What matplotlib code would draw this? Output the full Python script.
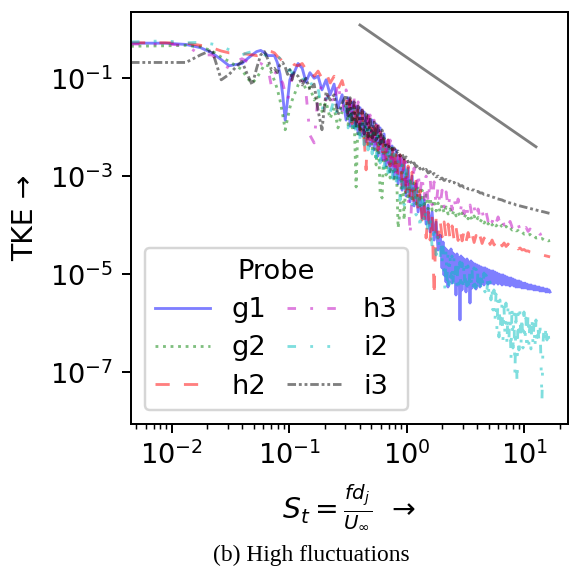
import matplotlib
matplotlib.use("Agg")
import matplotlib.pyplot as plt
from matplotlib.ticker import LogLocator, NullLocator

# Strouhal number grid (shared by all probes)
st = [0.0045, 0.0088, 0.0132, 0.0176, 0.0220, 0.0264, 0.0308, 0.0352, 0.0396, 0.0440,
      0.0484, 0.0528, 0.0572, 0.0616, 0.0660, 0.0704, 0.0748, 0.0792, 0.0836, 0.0880,
      0.0924, 0.0968, 0.1012, 0.1056, 0.1100, 0.119, 0.129, 0.139, 0.150, 0.163,
      0.176, 0.190, 0.206, 0.223, 0.241, 0.260, 0.282,
      0.305, 0.317, 0.330, 0.343, 0.356, 0.371, 0.386, 0.401, 0.417, 0.434,
      0.451, 0.469, 0.488, 0.508, 0.528, 0.549, 0.571, 0.594, 0.617, 0.642,
      0.668, 0.695, 0.722, 0.751, 0.781, 0.812, 0.845, 0.879, 0.914, 0.950,
      0.988, 1.028, 1.069, 1.112, 1.156, 1.202, 1.250, 1.300, 1.352, 1.406,
      1.463, 1.521, 1.582, 1.645, 1.711, 1.780, 1.850, 1.924, 2.001, 2.081,
      2.165, 2.251, 2.341, 2.435, 2.532, 2.633, 2.738, 2.848, 2.962, 3.080,
      3.203, 3.332, 3.465, 3.603, 3.747, 3.897, 4.053, 4.215, 4.383, 4.558,
      4.740, 4.930, 5.127, 5.332, 5.545, 5.767, 5.997, 6.237, 6.486, 6.745,
      7.015, 7.295, 7.586, 7.889, 8.204, 8.532, 8.873, 9.228, 9.597, 9.98,
      10.38, 10.79, 11.22, 11.67, 12.14, 12.62, 13.13, 13.65, 14.20, 14.77,
      15.36, 15.97, 16.61]

# finer high-frequency part of the grid (g1 and i2 keep the full FFT resolution there)
st_hi = [1.959, 1.998, 2.037, 2.077, 2.118, 2.160, 2.203, 2.246, 2.291, 2.336,
         2.382, 2.429, 2.477, 2.526, 2.576, 2.627, 2.679, 2.732, 2.786, 2.841,
         2.897, 2.955, 3.013, 3.073, 3.134, 3.196, 3.259, 3.323, 3.389, 3.456,
         3.524, 3.594, 3.665, 3.738, 3.812, 3.887, 3.964, 4.042, 4.122, 4.204,
         4.287, 4.372, 4.458, 4.547, 4.637, 4.728, 4.822, 4.917, 5.015, 5.114,
         5.215, 5.318, 5.423, 5.531, 5.640, 5.752, 5.866, 5.982, 6.100, 6.221,
         6.344, 6.469, 6.597, 6.728, 6.861, 6.997, 7.135, 7.276, 7.420, 7.567,
         7.717, 7.870, 8.025, 8.184, 8.346, 8.511, 8.680, 8.851, 9.027, 9.205,
         9.387, 9.573, 9.763, 9.956, 10.15, 10.35, 10.56, 10.77, 10.98, 11.20,
         11.42, 11.65, 11.88, 12.11, 12.35, 12.60, 12.85, 13.10, 13.36, 13.62,
         13.89, 14.17, 14.45, 14.73, 15.03, 15.32, 15.63, 15.94, 16.25, 16.58]

tke_g1 = [0.52, 0.52, 0.49, 0.42, 0.33, 0.24, 0.18, 0.19, 0.20, 0.25,
          0.30, 0.35, 0.37, 0.33, 0.29, 0.29, 0.29, 0.21, 0.12, 0.046,
          0.014, 0.036, 0.093, 0.12, 0.13, 0.20, 0.16, 0.083, 0.13, 0.10,
          0.11, 0.058, 0.093, 0.046, 0.076, 0.025, 0.046,
          0.014, 0.040, 0.0106, 0.033, 0.0097, 0.027, 0.0073, 0.025, 0.0066, 0.0205,
          0.0050, 0.0178, 0.00415, 0.014, 0.00344, 0.0117, 0.00259, 0.0097, 0.00215, 0.0073,
          0.00162, 0.0055, 0.00122, 0.00415, 9.2e-4, 0.00344, 7.0e-4, 0.00259, 5.2e-4, 0.00215,
          3.96e-4, 0.00148, 3.0e-4, 0.00101, 2.48e-4, 7.0e-4, 1.87e-4, 4.15e-4, 1.41e-4, 3.28e-4,
          1.06e-4, 2.59e-4, 7.3e-5, 1.87e-4, 5.0e-5, 1.17e-4, 3.13e-5, 6.3e-5,
          # fine part
          3.96e-5, 1.35e-5, 4.56e-5, 9.7e-6, 3.44e-5, 7.0e-6, 3.13e-5, 5.5e-6, 2.85e-5, 9.2e-6,
          3.28e-5, 6.6e-6, 2.72e-5, 7.65e-6, 2.48e-5, 3.78e-6, 2.60e-5, 6.05e-6, 2.15e-5, 1.17e-6,
          2.36e-5, 4.79e-6, 2.15e-5, 6.6e-6, 1.96e-5, 4.36e-6, 2.05e-5, 5.77e-6, 1.78e-5, 2.59e-6,
          1.87e-5, 5.25e-6, 1.70e-5, 6.05e-6, 1.62e-5, 5.0e-6, 1.55e-5, 6.3e-6, 1.48e-5, 5.5e-6,
          1.41e-5, 6.6e-6, 1.35e-5, 6.05e-6, 1.35e-5, 7.0e-6, 1.28e-5, 6.3e-6, 1.22e-5, 6.6e-6,
          1.17e-5, 6.6e-6, 1.17e-5, 6.3e-6, 1.11e-5, 7.0e-6, 1.06e-5, 6.3e-6, 1.01e-5, 6.6e-6,
          9.7e-6, 6.05e-6, 9.7e-6, 6.3e-6, 9.2e-6, 6.05e-6, 8.8e-6, 6.05e-6, 8.4e-6, 5.77e-6,
          8.4e-6, 6.05e-6, 8.0e-6, 5.77e-6, 7.65e-6, 5.5e-6, 7.3e-6, 5.5e-6, 7.3e-6, 5.5e-6,
          7.0e-6, 5.25e-6, 6.6e-6, 5.25e-6, 6.6e-6, 5.25e-6, 6.3e-6, 5.0e-6, 6.05e-6, 5.0e-6,
          6.05e-6, 5.0e-6, 5.77e-6, 4.79e-6, 5.77e-6, 4.79e-6, 5.5e-6, 4.79e-6, 5.5e-6, 4.56e-6,
          5.25e-6, 4.56e-6, 5.25e-6, 4.56e-6, 5.0e-6, 4.36e-6, 5.0e-6, 4.36e-6, 4.79e-6, 4.36e-6]

tke_g2 = [0.45, 0.46, 0.47, 0.44, 0.36, 0.27, 0.22, 0.18, 0.15, 0.10,
          0.08, 0.10, 0.14, 0.19, 0.18, 0.13, 0.09, 0.06, 0.035, 0.018,
          0.0089, 0.015, 0.025, 0.035, 0.045, 0.073, 0.093, 0.058, 0.066, 0.036,
          0.046, 0.021, 0.033, 0.015, 0.025, 0.0097, 0.021,
          0.0285, 0.0111, 0.025, 0.0097, 0.0205, 6.05e-4, 0.0178, 0.00697, 0.0155, 0.0055,
          0.0128, 0.00435, 0.0111, 0.00344, 0.0088, 0.0017, 0.00765, 4.8e-4, 3.6e-4, 0.00605,
          0.00106, 0.00479, 9.2e-4, 0.00378, 7.7e-4, 0.00272, 8.8e-5, 2.05e-4, 0.0017, 1.28e-4,
          0.00122, 3.28e-4, 9.2e-4, 3.0e-4, 7.3e-4, 2.72e-4, 6.3e-4, 2.48e-4, 5.2e-4, 2.25e-4,
          4.15e-4, 2.15e-4, 3.6e-4, 2.05e-4, 3.28e-4, 1.96e-4, 2.85e-4, 1.87e-4, 2.59e-4, 1.78e-4,
          2.36e-4, 1.70e-4, 2.15e-4, 1.62e-4, 2.0e-4, 1.55e-4, 1.87e-4, 1.48e-4, 1.78e-4, 1.41e-4,
          1.70e-4, 1.35e-4, 1.62e-4, 1.28e-4, 1.55e-4, 1.22e-4, 1.44e-4, 1.17e-4, 1.35e-4, 1.11e-4,
          1.28e-4, 1.06e-4, 1.20e-4, 1.01e-4, 1.14e-4, 9.7e-5, 1.06e-4, 9.2e-5, 1.01e-4, 8.8e-5,
          9.5e-5, 8.4e-5, 9.0e-5, 8.0e-5, 8.4e-5, 7.7e-5, 7.8e-5, 7.1e-5, 7.3e-5, 6.6e-5,
          6.8e-5, 6.3e-5, 6.5e-5, 5.9e-5, 6.05e-5, 5.5e-5, 5.6e-5, 5.25e-5, 5.35e-5, 5.0e-5,
          5.1e-5, 4.8e-5, 4.9e-5]

tke_h2 = [0.53, 0.53, 0.52, 0.47, 0.42, 0.36, 0.33, 0.33, 0.32, 0.31,
          0.30, 0.29, 0.31, 0.34, 0.36, 0.35, 0.33, 0.28, 0.25, 0.22,
          0.20, 0.19, 0.20, 0.21, 0.19, 0.18, 0.20, 0.15, 0.16, 0.11,
          0.14, 0.10, 0.13, 0.08, 0.11, 0.06, 0.09,
          0.0436, 0.014, 0.036, 0.0117, 0.030, 0.0097, 0.025, 0.0080, 0.0205, 0.00605,
          0.00135, 0.017, 0.0050, 0.014, 0.00415, 0.0111, 0.00344, 0.0088, 0.00259, 0.00697,
          0.00215, 0.0055, 0.00162, 0.00435, 0.00122, 0.00344, 9.2e-4, 0.00272, 6.6e-4, 0.00215,
          4.8e-4, 0.00162, 3.6e-4, 0.00122, 2.59e-4, 8.4e-4, 1.87e-4, 5.2e-4, 1.28e-4, 2.59e-4,
          5.5e-5, 1.87e-4, 5.0e-5, 1.62e-4, 3.6e-6, 1.41e-4, 5.5e-5, 1.28e-4, 5.8e-5, 1.17e-4,
          5.5e-5, 1.06e-4, 5.25e-5, 9.7e-5, 5.0e-5, 8.8e-5, 4.9e-5, 8.2e-5, 4.8e-5, 7.7e-5,
          4.67e-5, 7.1e-5, 4.56e-5, 6.6e-5, 4.45e-5, 6.2e-5, 4.35e-5, 5.9e-5, 4.25e-5, 5.5e-5,
          4.15e-5, 5.25e-5, 4.05e-5, 5.0e-5, 3.96e-5, 4.8e-5, 3.87e-5, 4.56e-5, 3.78e-5, 4.35e-5,
          3.69e-5, 4.15e-5, 3.6e-5, 3.96e-5, 3.44e-5, 3.69e-5, 3.28e-5, 3.44e-5, 3.13e-5, 3.2e-5,
          2.99e-5, 2.99e-5, 2.85e-5, 2.79e-5, 2.72e-5, 2.66e-5, 2.6e-5, 2.54e-5, 2.48e-5, 2.42e-5,
          2.37e-5, 2.31e-5, 2.26e-5]

tke_h3 = [0.50, 0.50, 0.47, 0.30, 0.30, 0.20, 0.16, 0.22, 0.25, 0.22,
          0.20, 0.18, 0.20, 0.18, 0.16, 0.07, 0.12, 0.15, 0.10, 0.08,
          0.05, 0.035, 0.06, 0.10, 0.14, 0.12, 0.09, 0.05, 0.0069, 0.0048,
          0.046, 0.073, 0.036, 0.058, 0.028, 0.083, 0.022,
          0.058, 0.0178, 0.048, 0.014, 0.040, 0.0117, 0.033, 0.0088, 0.027, 0.0073,
          0.0225, 0.0055, 0.0178, 0.00435, 0.014, 0.00344, 0.0117, 0.00272, 0.0088, 0.00215,
          0.00697, 0.0017, 0.0055, 0.00135, 0.00415, 0.00106, 0.00344, 8.4e-4, 0.00259, 6.3e-4,
          0.00196, 4.8e-4, 6.3e-5, 5.2e-4, 0.00148, 4.15e-4, 0.00122, 4.56e-4, 0.00106, 3.28e-4,
          1.01e-3, 2.85e-4, 9.2e-4, 2.59e-4, 7.7e-4, 2.48e-4, 6.3e-4, 2.48e-4, 5.2e-4, 2.36e-4,
          4.8e-4, 2.25e-4, 4.15e-4, 2.05e-4, 3.78e-4, 1.96e-4, 3.44e-4, 1.78e-4, 3.13e-4, 1.70e-4,
          2.85e-4, 1.55e-4, 2.59e-4, 1.48e-4, 2.36e-4, 1.41e-4, 2.15e-4, 1.35e-4, 1.96e-4, 1.28e-4,
          1.87e-4, 1.22e-4, 1.70e-4, 1.17e-4, 1.58e-4, 1.11e-4, 1.48e-4, 1.06e-4, 1.38e-4, 1.01e-4,
          1.28e-4, 9.7e-5, 1.20e-4, 9.2e-5, 1.11e-4, 8.8e-5, 1.04e-4, 8.2e-5, 9.7e-5, 7.8e-5,
          9.0e-5, 7.5e-5, 8.4e-5, 7.1e-5, 7.8e-5, 6.8e-5, 7.3e-5, 6.5e-5, 6.8e-5, 6.2e-5,
          6.3e-5, 5.9e-5, 6.05e-5]

tke_i2 = [0.55, 0.58, 0.53, 0.54, 0.50, 0.45, 0.38, 0.33, 0.30, 0.33,
          0.35, 0.36, 0.33, 0.30, 0.28, 0.25, 0.27, 0.29, 0.25, 0.20,
          0.16, 0.14, 0.15, 0.13, 0.12, 0.12, 0.13, 0.073, 0.093, 0.052,
          0.063, 0.022, 0.046, 0.020, 0.036, 0.015, 0.028,
          0.036, 0.0097, 0.030, 0.0080, 0.025, 0.0066, 0.0205, 0.0055, 0.017, 0.00435,
          0.014, 0.00344, 0.0117, 0.00285, 0.0097, 0.00237, 0.0080, 0.00187, 0.0063, 0.00148,
          0.0050, 0.00117, 0.00378, 9.2e-4, 0.00285, 7.0e-4, 0.00215, 3.28e-4, 0.0017, 2.59e-4,
          0.00135, 3.6e-4, 0.00101, 2.59e-4, 7.7e-4, 1.62e-4, 5.2e-4, 8.0e-5, 3.28e-4, 1.01e-4,
          2.05e-4, 6.3e-5, 1.62e-4, 3.44e-5, 1.01e-4, 2.48e-5, 7.3e-5, 2.15e-5,
          # fine part
          5.01e-5, 1.78e-5, 3.96e-5, 9.7e-6, 4.79e-6, 3.13e-5, 7.65e-6, 2.85e-5, 6.05e-6, 2.60e-5,
          8.4e-6, 2.36e-5, 5.77e-6, 2.15e-5, 7.0e-6, 2.05e-5, 5.25e-6, 1.96e-5, 6.3e-6, 1.78e-5,
          4.79e-6, 1.70e-5, 6.05e-6, 1.62e-5, 5.0e-6, 1.55e-5, 5.77e-6, 1.48e-5, 4.56e-6, 1.41e-5,
          5.5e-6, 1.35e-5, 4.79e-6, 1.35e-5, 5.25e-6, 1.28e-5, 4.36e-6, 1.22e-5, 5.0e-6, 1.17e-5,
          4.56e-6, 1.11e-5, 5.25e-6, 1.06e-5, 4.36e-6, 9.7e-6, 4.79e-6, 8.4e-6, 3.78e-6, 7.0e-6,
          2.99e-6, 5.77e-6, 1.87e-6, 4.79e-6, 1.06e-6, 3.96e-6, 7.3e-7, 3.44e-6, 5.25e-7, 2.99e-6,
          6.6e-7, 2.48e-6, 4.56e-7, 2.26e-6, 5.8e-7, 2.59e-6, 3.6e-7, 2.05e-6, 5.0e-7, 1.87e-6,
          1.78e-7, 2.26e-6, 3.13e-7, 1.70e-6, 8.8e-8, 1.87e-6, 6.05e-8, 1.55e-6, 2.85e-7, 1.78e-6,
          3.6e-7, 1.41e-6, 3.13e-7, 1.70e-6, 4.15e-7, 1.28e-6, 2.85e-7, 1.55e-6, 3.44e-7, 1.17e-6,
          2.99e-7, 1.35e-6, 3.78e-7, 1.06e-6, 3.13e-7, 1.17e-6, 3.6e-7, 9.2e-7, 3.96e-7, 1.06e-6,
          1.78e-7, 2.72e-8, 3.6e-7, 8.4e-7, 3.96e-7, 9.2e-7, 4.56e-7, 7.3e-7, 4.15e-7, 6.3e-7]

tke_i3 = [0.21, 0.21, 0.21, 0.30, 0.38, 0.093, 0.12, 0.17, 0.22, 0.12,
          0.073, 0.16, 0.30, 0.35, 0.24, 0.15, 0.16, 0.13, 0.19, 0.21,
          0.17, 0.12, 0.15, 0.093, 0.13, 0.11, 0.073, 0.10, 0.058, 0.076,
          0.022, 0.0089, 0.053, 0.036, 0.046, 0.018, 0.031,
          0.0456, 0.0155, 0.040, 0.0128, 0.033, 0.0106, 0.027, 0.0088, 0.0225, 0.0073,
          0.0187, 0.0063, 0.0155, 0.0055, 0.0128, 0.0050, 0.0106, 0.00456, 0.0088, 0.00415,
          0.00435, 0.00378, 0.00435, 0.00344, 0.00378, 0.00299, 0.00328, 0.00259, 0.00285, 0.00225,
          0.00248, 0.00196, 0.00215, 0.00170, 0.00187, 0.00155, 0.00170, 0.00141, 0.00155, 0.00128,
          0.00138, 0.00117, 0.00125, 0.00106, 0.00114, 9.7e-4, 1.01e-3, 8.8e-4, 9.2e-4, 8.2e-4,
          8.6e-4, 7.7e-4, 8.0e-4, 7.3e-4, 7.5e-4, 6.8e-4, 7.0e-4, 6.3e-4, 6.45e-4, 5.9e-4,
          6.05e-4, 5.5e-4, 5.6e-4, 5.25e-4, 5.25e-4, 4.9e-4, 4.9e-4, 4.56e-4, 4.56e-4, 4.25e-4,
          4.25e-4, 4.06e-4, 3.96e-4, 3.78e-4, 3.69e-4, 3.52e-4, 3.44e-4, 3.36e-4, 3.28e-4, 3.13e-4,
          3.06e-4, 2.92e-4, 2.85e-4, 2.79e-4, 2.72e-4, 2.59e-4, 2.54e-4, 2.48e-4, 2.42e-4, 2.36e-4,
          2.31e-4, 2.25e-4, 2.20e-4, 2.15e-4, 2.10e-4, 2.05e-4, 2.0e-4, 1.96e-4, 1.91e-4, 1.87e-4,
          1.82e-4, 1.78e-4, 1.74e-4]

# -5/3 reference slope line
ref_st = [0.40, 12.6]
ref_tke = [1.22, 0.0040]

N_COARSE = 85  # grid points of st used before st_hi takes over for g1 and i2
st_fine = st[:N_COARSE] + st_hi

probes = ["g1", "g2", "h2", "h3", "i2", "i3"]
grids = [st_fine, st, st, st, st_fine, st]
series = [tke_g1, tke_g2, tke_h2, tke_h3, tke_i2, tke_i3]
colors = ["b", "g", "r", "m", "c", "k"]
styles = ["-", ":", (0, (5, 5)), (0, (3, 5, 1, 5)), (0, (3, 5, 1, 5, 1, 5)),
          (0, (3, 1, 1, 1, 1, 1))]

DPI = 178
fig = plt.figure(figsize=(571 / DPI, 570 / DPI), dpi=DPI)
ax = fig.add_axes([131 / 571, 1 - 424 / 570, 437 / 571, 412 / 570])

for name, xs, vals, c, ls in zip(probes, grids, series, colors, styles):
    ax.plot(xs, vals, color=c, alpha=0.5, linestyle=ls, linewidth=1.15, label=name)

ax.plot(ref_st, ref_tke, color="k", alpha=0.5, linewidth=1.15)

ax.set_xscale("log")
ax.set_yscale("log")
ax.set_xlim(0.0045, 23.6)
ax.set_ylim(8.8e-9, 2.25)
ax.set_yticks([1e-1, 1e-3, 1e-5, 1e-7])
ax.yaxis.set_minor_locator(NullLocator())
ax.xaxis.set_major_locator(LogLocator(base=10, numticks=10))
ax.xaxis.set_minor_locator(LogLocator(base=10, subs=range(2, 10), numticks=20))
ax.tick_params(axis="both", which="major", labelsize=11)

ax.set_ylabel("TKE →", fontsize=11.5, labelpad=4.5)
ax.set_xlabel(r"$S_t = \frac{fd_j}{U_\infty}$  →", fontsize=11.5, labelpad=5)

ax.legend(title="Probe", ncol=2, loc="lower left", fontsize=11, title_fontsize=11,
          columnspacing=0.75, labelspacing=0.45)

fig.text(0.545, 0.026, "(b) High fluctuations", family="Liberation Serif",
         fontsize=9.5, ha="center", va="center")

fig.savefig("out.png", dpi=DPI)
